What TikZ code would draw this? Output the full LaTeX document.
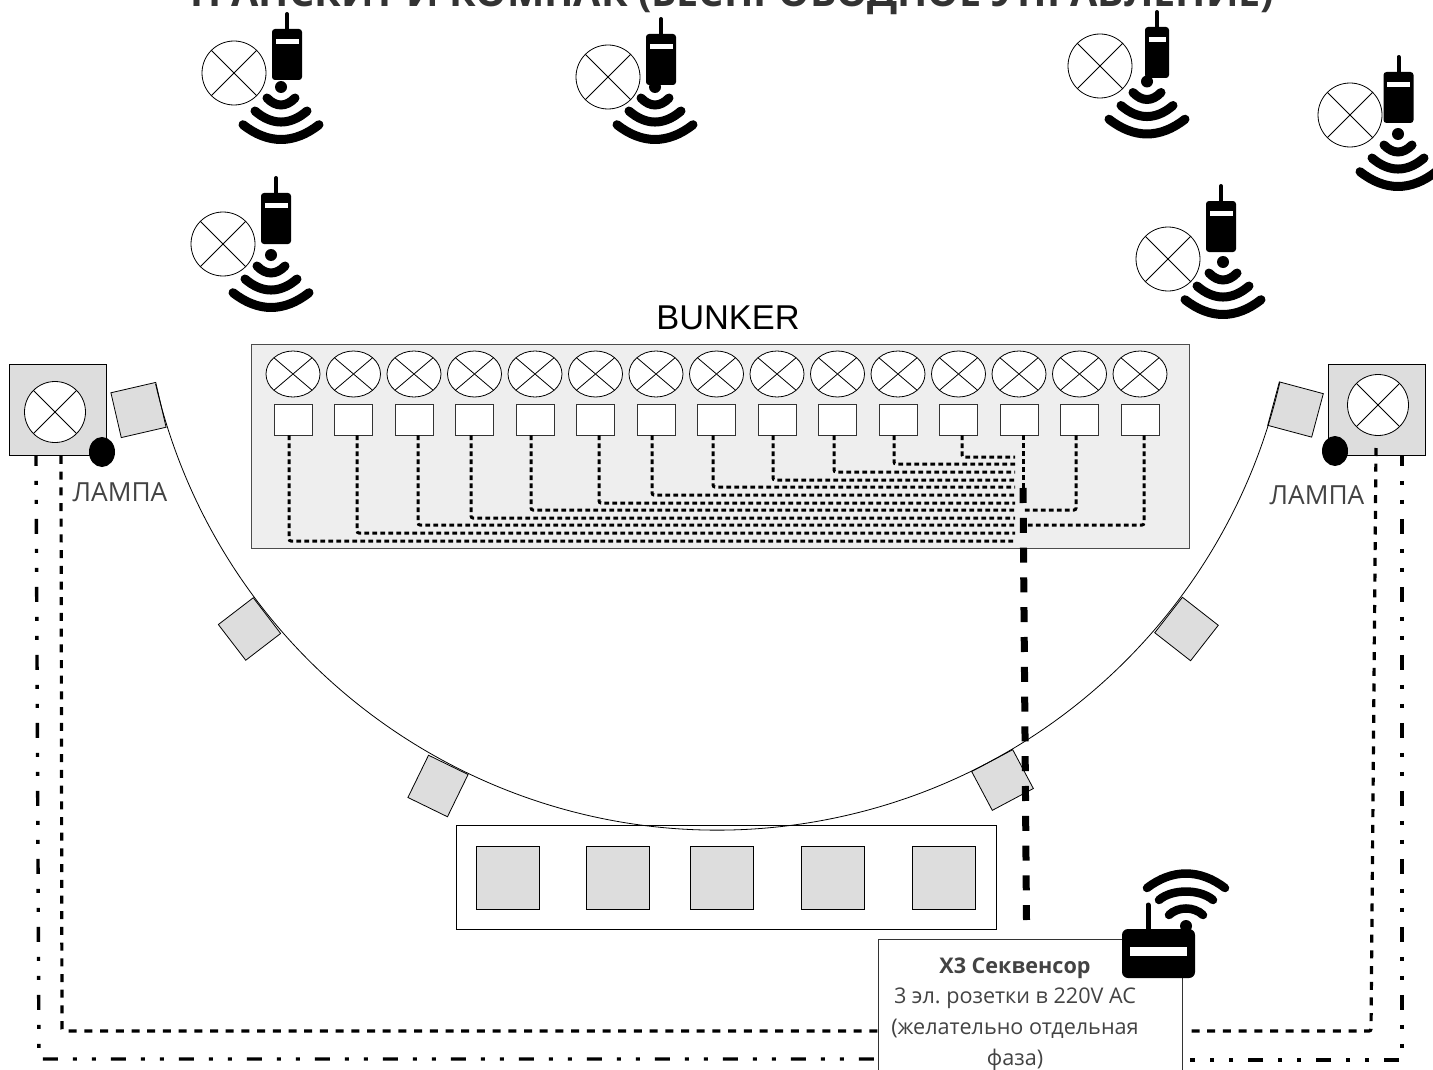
\documentclass[tikz,border=0pt]{standalone}
\usepackage{fontspec}
\setmainfont{Open Sans}
\newfontfamily\bunkerfont{Liberation Sans}
\usetikzlibrary{shapes.geometric}
\definecolor{tilegray}{HTML}{DDDDDD}
\definecolor{plategray}{HTML}{EEEEEE}
\definecolor{textgray}{HTML}{434343}
\tikzset{
        lampsign/.style={ellipse,draw,fill=white,inner sep=0pt,line width=.8pt,minimum width=#1,minimum height=#1,
                path picture={\draw[line width=.8pt](path picture bounding box.north west)--(path picture bounding box.south east)
                (path picture bounding box.north east)--(path picture bounding box.south west);}},
        lampsign/.default=64pt,
        switchbox/.style={draw=black!80,fill=white,line width=.8pt,inner sep=0pt,minimum width=38pt,minimum height=31pt},
        tile/.style={draw,fill=tilegray,line width=.8pt,inner sep=0pt},
        wire/.style={line width=3pt,dash pattern=on 4.8pt off 3.2pt,rounded corners=2pt},
        powerline/.style={line width=3.2pt,dash pattern=on 8pt off 7.7pt,rounded corners=2pt},
        signalline/.style={line width=3.4pt,dash pattern=on 15pt off 15pt on 4pt off 15pt on 4pt off 15pt,dash phase=5pt},
        graytext/.style={text=textgray,font=\fontsize{26.3}{30}\selectfont},
        pics/waves/.style={code={
                \fill(0,0) circle (6);
                \draw[line width=9pt,line cap=round](-14,11) .. controls (-5,20.3) and (5,20.3) .. (14,11);
                \draw[line width=9pt,line cap=round](-26,24) .. controls (-9,38.7) and (9,38.7) .. (26,24);
                \draw[line width=9pt,line cap=round](-38,37.7) .. controls (-13,57.4) and (13,57.4) .. (38,37.7);
        }},
        pics/radio/.style={code={
                \draw[line width=4pt,line cap=round](0,-15)--(0,1);
                \fill[rounded corners=3pt](-#1/2,0) rectangle (#1/2,51);
                \fill[white](-#1/2+3.5,10) rectangle (#1/2-3.5,15);
        }}
}
\begin{document}
\begin{tikzpicture}[x=1pt,y=-1pt]
        \useasboundingbox (0,0) rectangle (1433,1070);
        \clip (0,0) rectangle (1433,1070);
        \node[anchor=base,text=black!80,font=\fontsize{39.6}{44}\selectfont\bfseries] (title) at (730,7) {ТРАНСКИТ И КОМПАК (БЕСПРОВОДНОЕ УПРАВЛЕНИЕ)};
        \foreach \n/\lx/\ly/\bx/\by/\bw/\wx/\wy in {1/234/73/287/29/30/281/87,2/608/77/661/34/30/655/87,3/1100/66/1157/27/24/1147/81.5,4/1350/115/1398.5/72/30/1398/134,5/1168/259/1221/201/30/1223/262,6/223/244/276/193/30/271/255}{
                \pic at (\wx,\wy) {waves};
                \pic at (\bx,\by) {radio=\bw};
                \node[lampsign] (bulb\n) at (\lx,\ly) {};
        }
        \node[font=\fontsize{34.4}{38}\selectfont\bunkerfont] (bunkerlabel) at (728,318) {BUNKER};
        \node[draw=black!70,fill=plategray,line width=1pt,inner sep=0pt,minimum width=938pt,minimum height=204pt] (plate) at (720,446) {};
        \foreach \i in {1,...,15}{
                \pgfmathsetmacro\px{293+(\i-1)*60.5}
                \node[lampsign={54pt},minimum height=46pt] (lamp\i) at (\px,374) {};
                \node[switchbox] (sw\i) at (\px,419.5) {};
        }
        \coordinate (busend) at (1015,0);
        \coordinate (trunktop) at (1023,488);
        \coordinate (trunkend) at (1026.5,920);
        \foreach \i/\x/\y in {1/289/541,2/357/533,3/418/525,4/471/518,5/531/510,6/599/503,7/652/495,8/713/487,9/773/480,10/834/472,11/894/464,12/962/457}{
                \draw[wire](\x,0 |- sw\i.south) |- (busend |- 0,\y);
        }
        \draw[wire](sw13.south -| trunktop) -- (trunktop);
        \draw[wire](1076,0 |- sw14.south) |- (trunktop |- 0,510);
        \draw[wire](1144,0 |- sw15.south) |- (trunktop |- 0,525);
        \node[tile,rotate=13,minimum width=46pt,minimum height=46pt] (tile1) at (138.5,410) {};
        \node[tile,rotate=37.5,minimum width=44pt,minimum height=45pt] (tile2) at (249.5,629) {};
        \node[tile,rotate=-26,minimum width=44pt,minimum height=47pt] (tile3) at (438,786) {};
        \node[tile,rotate=28,minimum width=46.5pt,minimum height=44pt] (tile4) at (1002.5,780) {};
        \node[tile,rotate=-38,minimum width=45.5pt,minimum height=45pt] (tile5) at (1186.5,629) {};
        \node[tile,rotate=-15,minimum width=45.5pt,minimum height=45pt] (tile6) at (1295.5,409.5) {};
        \node[draw,fill=white,line width=.8pt,inner sep=0pt,minimum width=540pt,minimum height=104pt] (rack) at (726,877) {};
        \foreach \i/\x in {1/507.5,2/618,3/722,4/832.5,5/943.5}{
                \node[tile,minimum width=63pt,minimum height=63pt] (rackunit\i) at (\x,877.5) {};
        }
        \coordinate (arcstart) at (155.6,384);
        \draw[line width=.8pt](arcstart) arc (166.88:12.92:577);
        \draw[line width=7pt,dash pattern=on 15pt off 14.8pt](trunktop)--(trunkend);
        \node[tile,minimum width=97pt,minimum height=91pt] (fixturel) at (58,410) {};
        \node[lampsign={61pt}] (bulbl) at (55,412) {};
        \fill (102,452) ellipse (13 and 15);
        \node[graytext] (lampal) at (120,492) {ЛАМПА};
        \node[tile,minimum width=97pt,minimum height=91pt] (fixturer) at (1376.5,410) {};
        \node[lampsign={61pt}] (bulbr) at (1378,405) {};
        \fill (1335,451) ellipse (13 and 15);
        \node[graytext] (lampar) at (1317,495) {ЛАМПА};
        \node[draw=black!80,fill=white,line width=.8pt,anchor=north,inner sep=0pt,minimum width=304pt,minimum height=160pt] (seqbox) at (1030,939) {};
        \node[align=center,text=textgray,inner sep=0pt,font=\fontsize{21.6}{30.6}\selectfont\frenchspacing] (seqtext) at (1015,1014) {\textbf{Х3 Секвенсор}\\3 эл. розетки в 220V AC\\(желательно отдельная\\фаза)};
        \draw[powerline](61,0 |- fixturel.south) -- (62,1031) -- (seqbox.west |- 0,1031);
        \draw[powerline](1376,448) -- (1371,1031) -- (1190,1031);
        \draw[signalline](36,0 |- fixturel.south) -- (39,1059) -- (seqbox.west |- 0,1059);
        \draw[signalline](1402,0 |- fixturer.south) -- (1402,1060) -- (1190,1060);
        \fill[white](1186,926) circle (8);
        \fill[rounded corners=6pt](1122,929) rectangle (1195,978);
        \fill[white](1130,947) rectangle (1187,956);
        \draw[line width=5pt,line cap=round](1148,905)--(1148,930);
        \fill(1186,926) circle (6);
        \draw[line width=8.5pt,line cap=round](1169,915) .. controls (1178,906.3) and (1194,906.3) .. (1203,915);
        \draw[line width=8.5pt,line cap=round](1159,900) .. controls (1172,888.7) and (1200,888.7) .. (1213,900);
        \draw[line width=8.5pt,line cap=round](1147,888) .. controls (1172,868.7) and (1200,868.7) .. (1225,888);
\end{tikzpicture}
\end{document}
